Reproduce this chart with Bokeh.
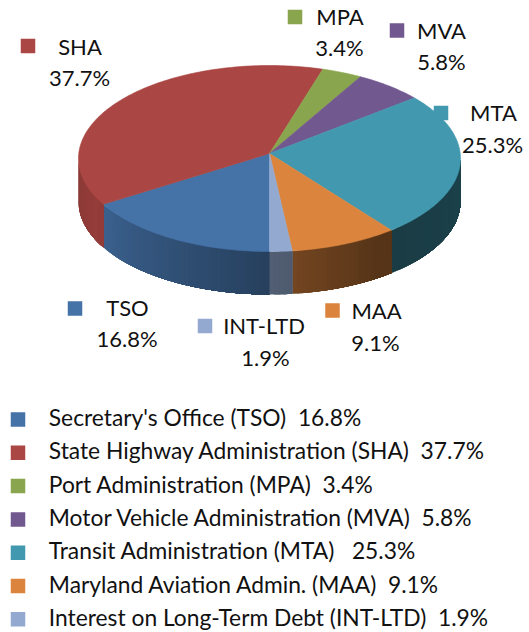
import math
import numpy as np
from bokeh.plotting import figure
from bokeh.models import Range1d, ColumnDataSource
from bokeh.core.properties import value
from bokeh.embed import file_html
from bokeh.resources import INLINE

# ---------------- data ----------------
categories = ["TSO", "SHA", "MPA", "MVA", "MTA", "MAA", "INT-LTD"]
full_names = [
    "Secretary's Office (TSO)",
    "State Highway Administration (SHA)",
    "Port Administration (MPA)",
    "Motor Vehicle Administration (MVA)",
    "Transit Administration (MTA)",
    "Maryland Aviation Admin. (MAA)",
    "Interest on Long-Term Debt (INT-LTD)",
]
shares = [16.8, 37.7, 3.4, 5.8, 25.3, 9.1, 1.9]
colors = ["#4572A7", "#AA4643", "#89A54E", "#71588F", "#4198AF", "#DB843D", "#93A9CF"]
legend_gaps = [2, 2, 2, 2, 3, 2, 2]

# ---------------- layout / style ----------------
W, H = 529, 632
FONT = "Lato"
LABEL_PX = 22.0
LEGEND_PX = 22.8
BASELINE_FIX = 0.44  # empirical shift (em) so glyph baseline lands where wanted
TEXT_COLOR = "#111111"

cx, cy_apex, cy_rim = 269.0, 153.0, 158.0
rx, ry, depth = 191.0, 93.0, 43.0
start_angle = 180.0  # degrees clockwise from 12 o'clock

# data-label placement (key centre, name centre x / baseline, value centre x / baseline)
label_key = [(74.5, 308), (27.5, 45.5), (294.5, 16.5), (396.5, 30), (440.5, 112.5), (332, 310), (204.5, 325.5)]
label_name = [(127, 317), (79.5, 56), (339.5, 26), (441, 40), (493, 122), (376, 320), (263.5, 335)]
label_val = [(126.5, 348), (79, 87), (339, 57), (441, 71), (492, 154), (375, 352), (265, 367)]
KEY_SIZE = 14.5

legend_key_x = 17.5
legend_text_x = 48.3
legend_first_baseline = 426.7
legend_step = 33.3

# side-wall lighting as function of angle
shade_theta = [90, 145, 180, 245, 270]
shade_f = [0.43, 0.39, 0.56, 0.87, 0.81]


def hex_to_rgb(h):
    h = h.lstrip("#")
    return tuple(int(h[i:i + 2], 16) for i in (0, 2, 4))


def shade(h, f):
    r, g, b = hex_to_rgb(h)
    return "#%02x%02x%02x" % tuple(max(0, min(255, int(round(c * f)))) for c in (r, g, b))


def rim(theta_deg, dy=0.0):
    t = np.radians(theta_deg)
    return cx + rx * np.sin(t), cy_rim - ry * np.cos(t) + dy


p = figure(width=W, height=H, x_range=Range1d(0, W), y_range=Range1d(H, 0),
           output_backend="svg", toolbar_location=None, min_border=0,
           x_axis_location=None, y_axis_location=None)
p.grid.visible = False
p.outline_line_color = None
p.background_fill_color = "white"
p.border_fill_color = "white"

total = float(sum(shares))
bounds = start_angle + 360.0 * np.concatenate([[0.0], np.cumsum(shares)]) / total

# ---------------- side walls (overlapping strips -> seamless gradient) ----------------
side_xs, side_ys, side_col = [], [], []
for i, col in enumerate(colors):
    a0, a1 = bounds[i], bounds[i + 1]
    for lo, hi in ((90.0, 270.0), (450.0, 630.0)):
        s0, s1 = max(a0, lo), min(a1, hi)
        if s1 <= s0:
            continue
        n = max(1, int(math.ceil((s1 - s0) / 1.5)))
        edges = np.linspace(s0, s1, n + 1)
        for k in range(n - 1, -1, -1):
            th = np.linspace(s0, edges[k + 1], max(3, int(math.ceil(edges[k + 1] - s0)) + 2))
            xt, yt = rim(th)
            xb, yb = rim(th[::-1], depth)
            side_xs.append(list(xt) + list(xb))
            side_ys.append(list(yt) + list(yb))
            mid = ((edges[k] + edges[k + 1]) / 2.0) % 360.0
            side_col.append(shade(col, float(np.interp(mid, shade_theta, shade_f))))

p.patches("xs", "ys", source=ColumnDataSource(dict(xs=side_xs, ys=side_ys, c=side_col)),
          fill_color="c", line_color=None)

# ---------------- top faces ----------------
top_xs, top_ys = [], []
for i in range(len(shares)):
    a0, a1 = bounds[i], bounds[i + 1]
    n = max(3, int(math.ceil(a1 - a0)) + 2)
    th = np.linspace(a0, a1, n)
    xt, yt = rim(th)
    top_xs.append([cx] + list(xt))
    top_ys.append([cy_apex] + list(yt))

p.patches("xs", "ys", source=ColumnDataSource(dict(xs=top_xs, ys=top_ys, c=colors)),
          fill_color="c", line_color="c", line_width=0.6)

# ---------------- data labels ----------------
lab_fix = BASELINE_FIX * LABEL_PX
p.rect(x=[k[0] for k in label_key], y=[k[1] for k in label_key], width=KEY_SIZE, height=KEY_SIZE,
       fill_color=colors, line_color=None)
p.text(x=[n[0] for n in label_name], y=[n[1] - lab_fix for n in label_name], text=categories,
       text_font=value(FONT), text_font_size=f"{LABEL_PX}px", text_color=TEXT_COLOR,
       text_align="center", text_baseline="alphabetic")
p.text(x=[v[0] for v in label_val], y=[v[1] - lab_fix for v in label_val], text=[f"{s:.1f}%" for s in shares],
       text_font=value(FONT), text_font_size=f"{LABEL_PX}px", text_color=TEXT_COLOR,
       text_align="center", text_baseline="alphabetic")

# ---------------- legend ----------------
NBSP = "\u00a0"
leg_fix = BASELINE_FIX * LEGEND_PX
leg_base = [legend_first_baseline + legend_step * i for i in range(len(shares))]
leg_text = [f"{nm}{NBSP * g}{s:.1f}%" for nm, g, s in zip(full_names, legend_gaps, shares)]
p.rect(x=[legend_key_x] * len(shares), y=[b - 7.7 for b in leg_base], width=KEY_SIZE, height=KEY_SIZE,
       fill_color=colors, line_color=None)
p.text(x=[legend_text_x] * len(shares), y=[b - leg_fix for b in leg_base], text=leg_text,
       text_font=value(FONT), text_font_size=f"{LEGEND_PX}px", text_color=TEXT_COLOR,
       text_align="left", text_baseline="alphabetic")

open("out.html", "w").write(file_html(p, INLINE))
